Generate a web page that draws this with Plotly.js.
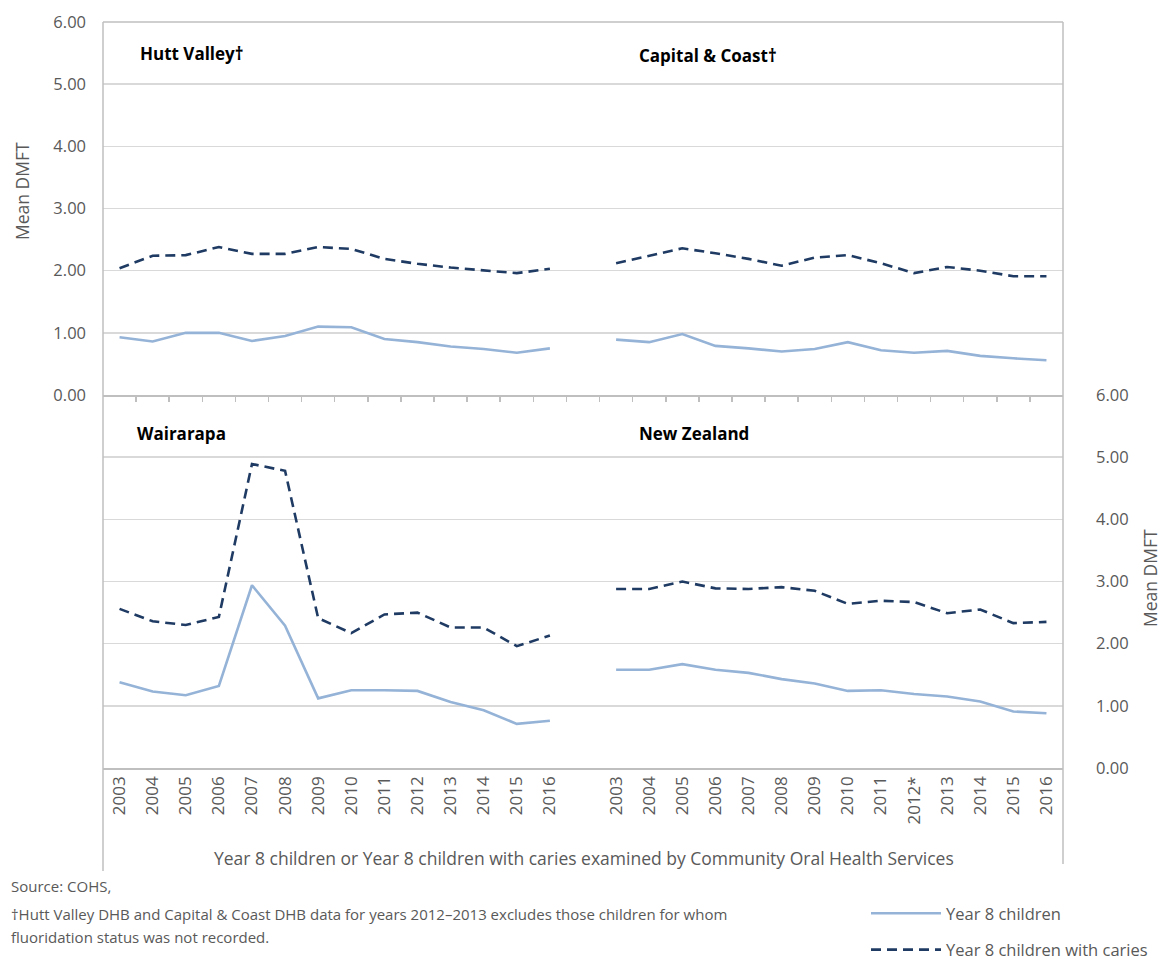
<!DOCTYPE html>
<html>
<head>
<meta charset="utf-8">
<script src="https://cdn.plot.ly/plotly-3.0.1.min.js"></script>
<style>html,body{margin:0;padding:0;background:#fff;}#chart{width:1165px;height:960px;}</style>
</head>
<body>
<div id="chart"></div>
<script>
// ---- data ----
const years = ['2003','2004','2005','2006','2007','2008','2009','2010','2011','2012','2013','2014','2015','2016'];
const nzYears = ['2003','2004','2005','2006','2007','2008','2009','2010','2011','2012*','2013','2014','2015','2016'];
const panelTitles = ['Hutt Valley†','Capital & Coast†','Wairarapa','New Zealand'];
const seriesNames = ['Year 8 children','Year 8 children with caries'];
const yTickLabels = ['0.00','1.00','2.00','3.00','4.00','5.00','6.00'];

const huttChildren = [0.93,0.86,1.00,1.00,0.87,0.95,1.10,1.09,0.90,0.85,0.78,0.74,0.68,0.75];
const huttCaries   = [2.04,2.24,2.25,2.38,2.27,2.27,2.38,2.35,2.19,2.11,2.05,2.00,1.96,2.03];
const ccChildren   = [0.89,0.85,0.98,0.79,0.75,0.70,0.74,0.85,0.72,0.68,0.71,0.63,0.59,0.56];
const ccCaries     = [2.12,2.24,2.36,2.28,2.19,2.08,2.21,2.25,2.12,1.96,2.06,2.00,1.91,1.91];
const waiChildren  = [1.38,1.23,1.17,1.32,2.94,2.29,1.12,1.25,1.25,1.24,1.06,0.93,0.71,0.76];
const waiCaries    = [2.56,2.36,2.30,2.43,4.89,4.78,2.41,2.17,2.47,2.50,2.26,2.26,1.96,2.13];
const nzChildren   = [1.58,1.58,1.67,1.58,1.53,1.43,1.36,1.24,1.25,1.19,1.15,1.07,0.91,0.88];
const nzCaries     = [2.88,2.88,3.00,2.89,2.88,2.91,2.85,2.64,2.69,2.67,2.49,2.55,2.33,2.35];

// ---- positions on the shared x axis (left group, one empty slot, right group) ----
const leftX = years.map((_, i) => i);
const rightX = nzYears.map((_, i) => i + years.length + 1);
const nSlots = years.length + 1 + nzYears.length;

const lightBlue = '#95B3D7';
const navy = '#1F3B63';
const solid = {color: lightBlue, width: 2.6};
const dashed = {color: navy, width: 2.6, dash: '10px,6px'};

const traces = [
  {x: leftX,  y: huttChildren, xaxis:'x',  yaxis:'y',  name: seriesNames[0], line: solid,  mode:'lines', showlegend:true,  legendgroup:'a'},
  {x: leftX,  y: huttCaries,   xaxis:'x',  yaxis:'y',  name: seriesNames[1], line: dashed, mode:'lines', showlegend:true,  legendgroup:'b'},
  {x: rightX, y: ccChildren,   xaxis:'x',  yaxis:'y',  name: seriesNames[0], line: solid,  mode:'lines', showlegend:false, legendgroup:'a'},
  {x: rightX, y: ccCaries,     xaxis:'x',  yaxis:'y',  name: seriesNames[1], line: dashed, mode:'lines', showlegend:false, legendgroup:'b'},
  {x: leftX,  y: waiChildren,  xaxis:'x2', yaxis:'y2', name: seriesNames[0], line: solid,  mode:'lines', showlegend:false, legendgroup:'a'},
  {x: leftX,  y: waiCaries,    xaxis:'x2', yaxis:'y2', name: seriesNames[1], line: dashed, mode:'lines', showlegend:false, legendgroup:'b'},
  {x: rightX, y: nzChildren,   xaxis:'x2', yaxis:'y2', name: seriesNames[0], line: solid,  mode:'lines', showlegend:false, legendgroup:'a'},
  {x: rightX, y: nzCaries,     xaxis:'x2', yaxis:'y2', name: seriesNames[1], line: dashed, mode:'lines', showlegend:false, legendgroup:'b'}
];

const font = 'Open Sans, Noto Sans, sans-serif';
const gray = '#595959';
const axisGray = '#BFBFBF';
const gridGray = '#D9D9D9';

const boundaries = [];
for (let i = 0; i < nSlots - 1; i++) boundaries.push(i + 0.5);
const allTickVals = leftX.concat(rightX);
const allTickText = years.concat(nzYears);

const yBase = {
  range: [0, 6], tickvals: [0,1,2,3,4,5,6], ticktext: yTickLabels,
  showgrid: true, gridcolor: gridGray, gridwidth: 1.5, zeroline: false,
  showline: false, ticks: '', fixedrange: true,
  tickfont: {family: font, size: 16.5, color: gray}
};

// pixel -> paper helpers (plot area 103..1063 x 22..768)
const W = 1165, H = 960;
const L = 103, R = 1063, T = 22, B = 768;
const px = v => (v - L) / (R - L);
const py = v => (B - v) / (B - T);

const annotations = [
  {text: panelTitles[0], x: px(138), y: py(53)},
  {text: panelTitles[1], x: px(637), y: py(55)},
  {text: panelTitles[2], x: px(135), y: py(433)},
  {text: panelTitles[3], x: px(637), y: py(433)}
].map(a => Object.assign(a, {xref:'paper', yref:'paper', xanchor:'left', yanchor:'middle', showarrow:false,
  font:{family: font, size: 17, color:'#000', weight: 700}}));

const textFont = {family:font, size:17.5, color:gray};
const legendFont = {family:font, size:16.5, color:gray};
const noteFont = {family:font, size:15, color:gray};
annotations.push(
  {text:'Mean DMFT', x: px(22), y: py(191), xref:'paper', yref:'paper', textangle:-90, showarrow:false,
   xanchor:'center', yanchor:'middle', font:textFont},
  {text:'Mean DMFT', x: px(1150), y: py(578), xref:'paper', yref:'paper', textangle:-90, showarrow:false,
   xanchor:'center', yanchor:'middle', font:textFont},
  {text:'Year 8 children or Year 8 children with caries examined by Community Oral Health Services',
   x: px(584), y: py(858), xref:'paper', yref:'paper', showarrow:false, xanchor:'center', yanchor:'middle',
   font:textFont},
  {text:'Source: COHS,', x: px(9), y: py(886), xref:'paper', yref:'paper', showarrow:false,
   xanchor:'left', yanchor:'middle', font:noteFont},
  {text:'†Hutt Valley DHB and Capital & Coast DHB data for years 2012–2013 excludes those children for whom',
   x: px(9), y: py(914), xref:'paper', yref:'paper', showarrow:false,
   xanchor:'left', yanchor:'middle', font:noteFont},
  {text:'fluoridation status was not recorded.', x: px(9), y: py(937), xref:'paper', yref:'paper', showarrow:false,
   xanchor:'left', yanchor:'middle', font:noteFont}
);

const shapes = [
  {type:'line', xref:'paper', yref:'paper', x0:0, x1:1, y0:1, y1:1, line:{color:axisGray, width:1.5}},
  {type:'line', xref:'paper', yref:'paper', x0:0, x1:0, y0:1, y1:py(871), line:{color:axisGray, width:1.5}},
  {type:'line', xref:'paper', yref:'paper', x0:1, x1:1, y0:1, y1:py(864), line:{color:axisGray, width:1.5}}
];

const layout = {
  width: W, height: H,
  margin: {l: L, r: W - R, t: T, b: H - B, pad: 0, autoexpand: false},
  paper_bgcolor: '#fff', plot_bgcolor: '#fff',
  font: {family: font, color: gray},
  showlegend: true,
  legend: {xref:'container', yref:'container', x: 866 / W, y: 1 - 896 / H, xanchor:'left', yanchor:'top',
           bgcolor:'rgba(0,0,0,0)', font:legendFont, tracegroupgap: 12, itemwidth: 70},
  xaxis: {anchor:'y', range:[-0.5, nSlots - 0.5], showgrid:false, zeroline:false,
          showline:true, linecolor:axisGray, linewidth:1.5, showticklabels:false,
          tickvals: boundaries, ticks:'outside', ticklen:5, tickcolor:axisGray, tickwidth:1.5, fixedrange:true},
  xaxis2: {anchor:'y2', matches:'x', range:[-0.5, nSlots - 0.5], showgrid:false, zeroline:false,
           showline:true, linecolor:axisGray, linewidth:1.5, ticks:'',
           tickvals: allTickVals, ticktext: allTickText, tickangle:-90,
           tickfont:{family:font, size:17, color:gray}, fixedrange:true},
  yaxis: Object.assign({}, yBase, {domain:[0.5, 1], anchor:'x', side:'left', ticklabelstandoff: 16}),
  yaxis2: Object.assign({}, yBase, {domain:[0, 0.5], anchor:'x2', side:'right', ticklabelstandoff: 32}),
  annotations: annotations,
  shapes: shapes
};

Plotly.newPlot('chart', traces, layout, {displayModeBar:false, staticPlot:true});
</script>
</body>
</html>
